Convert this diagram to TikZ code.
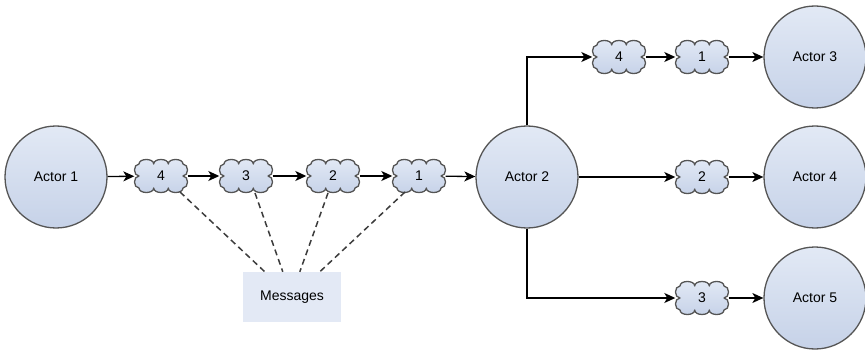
\documentclass[tikz,border=0pt]{standalone}
\usepackage{fontspec}
\setmainfont{Liberation Sans}
\usetikzlibrary{arrows.meta,calc}
\definecolor{edgegray}{HTML}{555555}
\definecolor{dashgray}{HTML}{3C3C3C}
\definecolor{filltop}{HTML}{E2E9F5}
\definecolor{fillbot}{HTML}{C6D2E8}
\definecolor{msgfill}{HTML}{E3E9F5}
\tikzset{
  actor/.style={circle, draw=edgegray, line width=1.3pt, minimum size=102pt, inner sep=0pt,
    top color=filltop, bottom color=fillbot, font=\fontsize{14}{16}\selectfont},
  cloudline/.style={draw=edgegray, line width=1.3pt, line join=round,
    top color=filltop, bottom color=fillbot},
  cloudtext/.style={rectangle, minimum width=53pt, minimum height=33pt, inner sep=0pt,
    font=\fontsize{14}{16}\selectfont},
  flow/.style={draw=black, line width=1.3pt, -{Stealth[length=11pt,width=10pt,inset=3pt]}},
  link/.style={draw=dashgray, line width=1.5pt, dash pattern=on 6pt off 4pt},
  msgbox/.style={rectangle, fill=msgfill, minimum width=98pt, minimum height=50pt,
    inner sep=0pt, font=\fontsize{14}{16}\selectfont}
}
\newcommand\mcloud[3]{%
  \path[cloudline, shift={(#2)}]
    (-22,-12) .. controls (-22,-18) and (-7.3,-18) .. (-7.3,-12)
    .. controls (-7.3,-18) and (7.3,-18) .. (7.3,-12)
    .. controls (7.3,-18) and (22,-18) .. (22,-12)
    .. controls (28,-12) and (28,0) .. (22,0)
    .. controls (28,0) and (28,12) .. (22,12)
    .. controls (22,18) and (7.3,18) .. (7.3,12)
    .. controls (7.3,18) and (-7.3,18) .. (-7.3,12)
    .. controls (-7.3,18) and (-22,18) .. (-22,12)
    .. controls (-28,12) and (-28,0) .. (-22,0)
    .. controls (-28,0) and (-28,-12) .. (-22,-12) -- cycle;
  \node[cloudtext] (#1) at (#2) {#3};%
}
\begin{document}
\begin{tikzpicture}[x=1pt,y=-1pt]
\useasboundingbox (0,0) rectangle (865,350);
% actors
\node[actor] (a1) at (56,177) {Actor 1};
\node[actor] (a2) at (527,177) {Actor 2};
\node[actor] (a3) at (815,57) {Actor 3};
\node[actor] (a4) at (815,177) {Actor 4};
\node[actor] (a5) at (815,298) {Actor 5};
% message clouds, main line
\mcloud{c4}{161,176}{4}
\mcloud{c3}{246,176}{3}
\mcloud{c2}{333,176}{2}
\mcloud{c1}{419,176}{1}
% branch clouds
\mcloud{t4}{619,57}{4}
\mcloud{t1}{702,57}{1}
\mcloud{m2}{702,177}{2}
\mcloud{b3}{702,298}{3}
% messages box
\node[msgbox] (msg) at (292,297) {Messages};
% flows
\draw[flow] (a1) -- (c4);
\draw[flow] (c4) -- (c3);
\draw[flow] (c3) -- (c2);
\draw[flow] (c2) -- (c1);
\draw[flow] (c1) -- (a2);
\draw[flow] (a2.north) |- (t4.west);
\draw[flow] (t4) -- (t1);
\draw[flow] (t1) -- (a3);
\draw[flow] (a2.east) -- (m2.west);
\draw[flow] (m2) -- (a4);
\draw[flow] (a2.south) |- (b3.west);
\draw[flow] (b3) -- (a5);
% dashed links
\coordinate (p4) at ($(msg.north west)+(22,0)$);
\coordinate (p3) at ($(msg.north west)+(40,0)$);
\coordinate (p2) at ($(msg.north west)+(57,0)$);
\coordinate (p1) at ($(msg.north west)+(77,0)$);
\draw[link] ($(c4)+(19,16)$) -- (p4);
\draw[link] ($(c3)+(9,17)$) -- (p3);
\draw[link] ($(c2)+(-5,17)$) -- (p2);
\draw[link] ($(c1)+(-14,16)$) -- (p1);
\end{tikzpicture}
\end{document}
